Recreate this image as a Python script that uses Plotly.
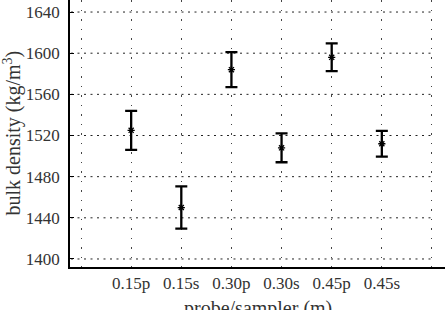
import plotly.graph_objects as go

categories = ["0.15p", "0.15s", "0.30p", "0.30s", "0.45p", "0.45s"]
positions = [1, 2, 3, 4, 5, 6]
density = [1525, 1450, 1584, 1508, 1596, 1512]
err = [19, 20.5, 17, 14, 13.5, 12.5]
y_ticks = [1400, 1440, 1480, 1520, 1560, 1600, 1640]
x_title = "probe/sampler (m)"
y_title = "bulk density (kg/m<sup>3</sup>)"

FONT = "Liberation Serif, serif"
TXT = "#333"

fig = go.Figure()
fig.add_trace(go.Scatter(
    x=positions, y=density, mode="markers",
    marker=dict(symbol="asterisk-open", size=6, color="black", line=dict(width=1.3, color="black")),
    error_y=dict(type="data", array=err, visible=True, color="black", thickness=2.3, width=6),
    showlegend=False,
))

# horizontal dotted grid lines, ending at the last vertical grid line
for yv in y_ticks:
    fig.add_shape(type="line", xref="x", yref="y", x0=-0.2, x1=7, y0=yv, y1=yv,
                  line=dict(color="#222", width=1, dash="2px,4.5px"), layer="below")

fig.add_annotation(text=x_title, xref="paper", yref="paper", x=0.5, y=0,
                   xanchor="center", yanchor="top", yshift=-28, showarrow=False,
                   font=dict(family=FONT, size=20, color=TXT))
fig.add_annotation(text=y_title, xref="paper", yref="paper", x=0, y=0.5,
                   xanchor="center", yanchor="middle", xshift=-58, textangle=-90, showarrow=False,
                   font=dict(family=FONT, size=20, color=TXT))

fig.update_layout(
    width=445, height=310,
    margin=dict(l=70, r=0, t=0, b=43, autoexpand=False),
    plot_bgcolor="white", paper_bgcolor="white",
    font=dict(family=FONT, size=17, color=TXT),
)
fig.update_xaxes(
    range=[-0.22, 7.26],
    tickvals=[0] + positions + [7],
    ticktext=[""] + categories + [""],
    showgrid=True, gridcolor="#444", griddash="1.5px,8px", gridwidth=1,
    showline=True, linecolor="black", linewidth=1.5,
    ticks="", zeroline=False, automargin=False,
    tickfont=dict(family=FONT, size=17, color=TXT),
)
fig.update_yaxes(
    range=[1392.2, 1651.7],
    tickvals=y_ticks,
    showgrid=False,
    showline=True, linecolor="black", linewidth=1.5,
    ticks="inside", ticklen=4, tickcolor="black",
    zeroline=False, automargin=False,
    ticklabelstandoff=5,
    tickfont=dict(family=FONT, size=17, color=TXT),
)

fig.write_html("out.html")
